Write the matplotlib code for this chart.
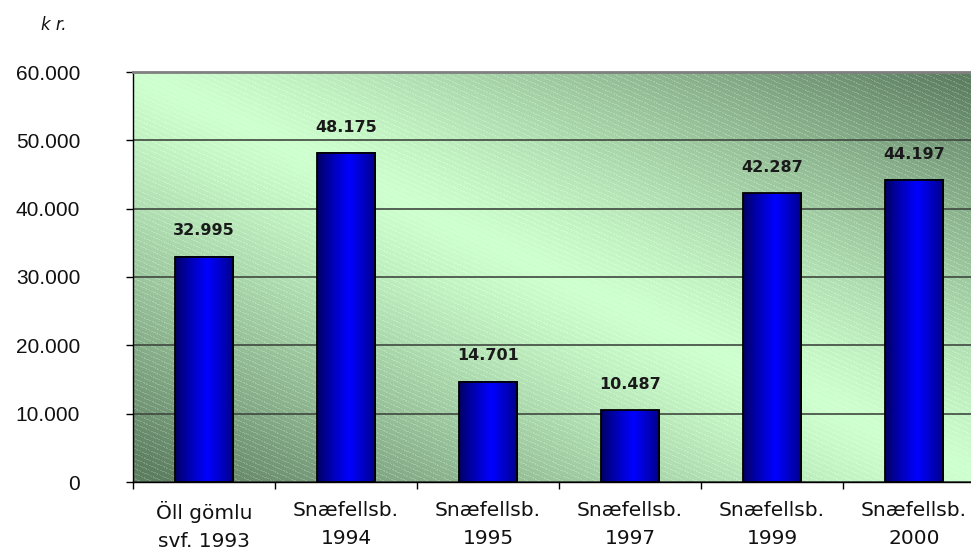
import numpy as np
import matplotlib
matplotlib.use('Agg')
import matplotlib.pyplot as plt

categories = ['Öll gömlu\nsvf. 1993', 'Snæfellsb.\n1994', 'Snæfellsb.\n1995',
              'Snæfellsb.\n1997', 'Snæfellsb.\n1999', 'Snæfellsb.\n2000']
values = [32995, 48175, 14701, 10487, 42287, 44197]
y_ticks = [0, 10000, 20000, 30000, 40000, 50000, 60000]
unit_label = 'k r.'


def dot_thousands(v):
    return f'{v:,}'.replace(',', '.')


def plot_background(ax, n_rows=410, n_cols=852):
    # light band along the top-left / bottom-right diagonal, darker corners
    xx, yy = np.meshgrid(np.linspace(0, 1, n_cols), np.linspace(0, 1, n_rows))
    t = np.clip(np.abs(xx - yy) * 1.05, 0, 1) ** 1.25
    light = np.array([206, 255, 206]) / 255
    dark = np.array([94, 126, 98]) / 255
    img = light[None, None, :] * (1 - t[..., None]) + dark[None, None, :] * t[..., None]
    # fine diagonal stripes, stronger where it is dark
    cols, rows = np.meshgrid(np.arange(n_cols), np.arange(n_rows))
    stripe = ((rows - 0.45 * cols) % 5) < 1.2
    dash = ((cols + rows) % 4) < 3
    img = img + (stripe & dash)[..., None] * (0.03 + 0.08 * t[..., None])
    img = np.clip(img, 0, 1)
    ax.imshow(img, extent=(-0.5, 5.5, 0, 60000), aspect='auto',
              interpolation='nearest', zorder=0)


def plot_bars(ax, width=0.415):
    grad_x = np.linspace(0, 1, 200)
    t = 1 - np.clip(np.abs(grad_x - 0.55) / 0.55, 0, 1)
    bar_img = np.zeros((1, 200, 3))
    bar_img[0, :, 2] = (90 + 165 * t ** 0.8) / 255
    for i, v in enumerate(values):
        ax.imshow(bar_img, extent=(i - width / 2, i + width / 2, 0, v),
                  aspect='auto', interpolation='bilinear', zorder=2)
    ax.bar(range(len(values)), values, width=width, facecolor='none',
           edgecolor='black', linewidth=1.3, zorder=3)
    for i, v in enumerate(values):
        ax.annotate(dot_thousands(v), (i, v), xytext=(0, 13), textcoords='offset points',
                    ha='center', va='bottom', fontsize=11.5, fontweight='bold',
                    color='#1a1a1a')


fig = plt.figure(figsize=(9.71, 5.51), dpi=100)
ax = fig.add_axes([133 / 971, 69 / 551, 852 / 971, 410 / 551])

plot_background(ax)
plot_bars(ax)

ax.set_xlim(-0.5, 5.5)
ax.set_ylim(0, 60000)
ax.set_axisbelow(True)
ax.yaxis.grid(True, color='#3f483f', linewidth=1.2)

ax.set_yticks(y_ticks)
ax.set_yticklabels([dot_thousands(v) for v in y_ticks], fontfamily='Liberation Sans')
ax.tick_params(axis='y', direction='out', length=5, width=1, pad=33,
               labelsize=15, labelcolor='#111111')

ax.set_xticks(range(len(categories)))
ax.set_xticklabels(categories, linespacing=1.55)
ax.tick_params(axis='x', which='major', length=0, pad=14, labelsize=14.5,
               labelcolor='#111111')
ax.set_xticks(np.arange(-0.5, 6, 1), minor=True)
ax.tick_params(axis='x', which='minor', direction='out', length=5, width=1)

ax.spines['top'].set_color('#808080')
ax.spines['top'].set_linewidth(2)
ax.spines['right'].set_visible(False)
ax.spines['left'].set_linewidth(1)
ax.spines['bottom'].set_linewidth(1)

fig.text(54 / 971, 1 - 25 / 551, unit_label, fontsize=12, fontstyle='italic',
         ha='center', va='center', color='#111111')

fig.savefig('out.png', dpi=100)
